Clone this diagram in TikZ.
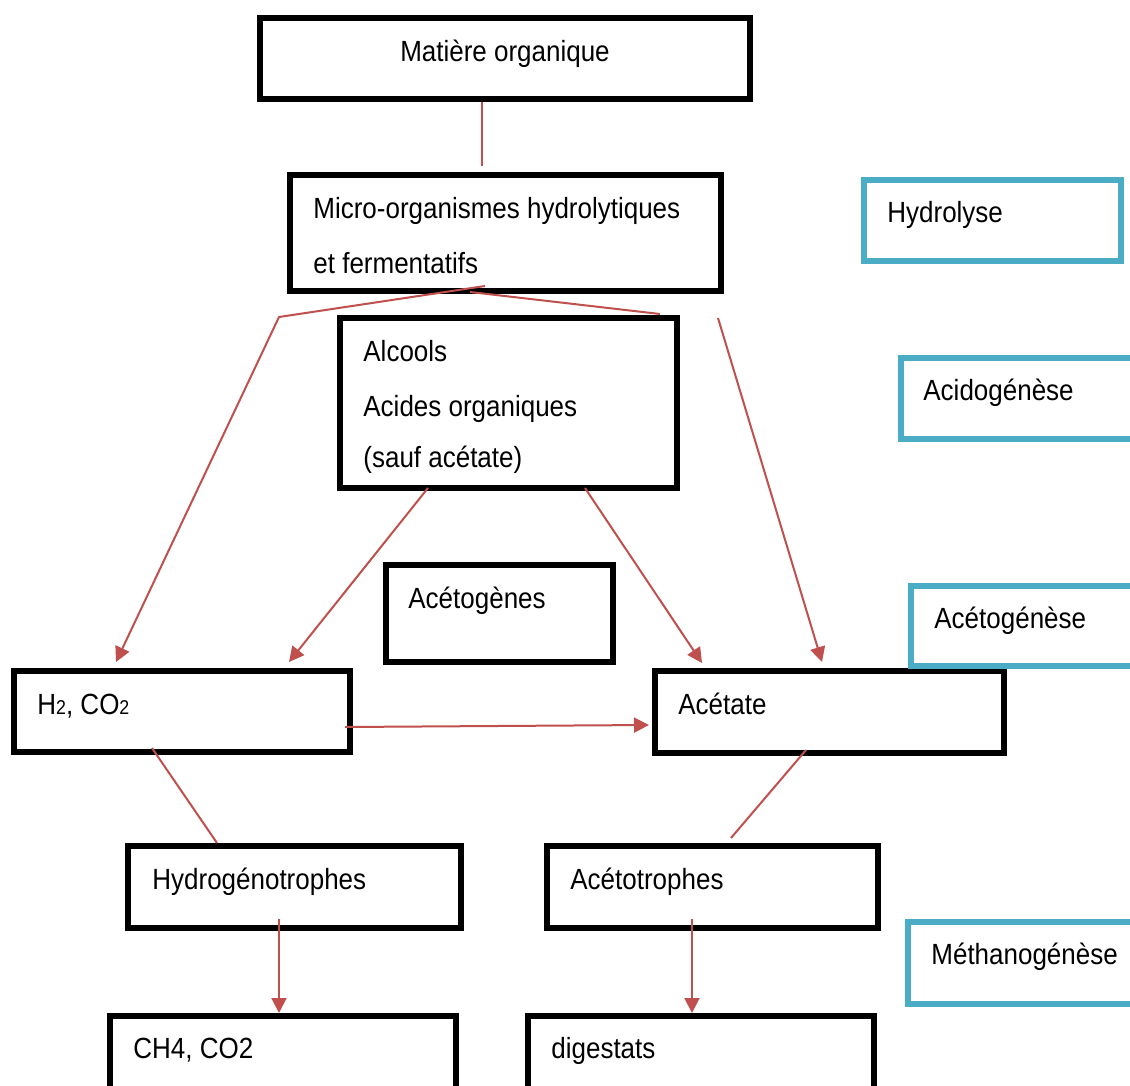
\documentclass[tikz,border=0pt]{standalone}
\usepackage{fontspec}
\setmainfont[FakeStretch=0.89]{Liberation Sans}
\usetikzlibrary{calc,arrows.meta}
\definecolor{flow}{HTML}{C0504D}
\definecolor{phase}{HTML}{4BACC6}
\newcommand\subdigit[1]{{\fontsize{10}{10}\selectfont #1}}

\begin{document}
\begin{tikzpicture}[x=0.5pt,y=-0.5pt,
  box/.style={draw=black,line width=3pt,rectangle,inner sep=0pt,anchor=north west},
  phasebox/.style={box,draw=phase},
  txt/.style={inner sep=0pt,anchor=base west,font=\fontsize{14.6}{17}\selectfont},
  con/.style={draw=flow,line width=1pt},
  arr/.style={con,-{Triangle[length=7.5pt,width=7.5pt]}}]
\useasboundingbox (0,0) rectangle (1130,1086);
\fill[white] (0,0) rectangle (1130,1086);
\clip (0,0) rectangle (1130,1086);

% process boxes
\node[box,minimum width=245pt,minimum height=40.5pt] (mat) at (257,15) {};
\node[box,minimum width=215.5pt,minimum height=58pt] (mic) at (287,172) {};
\node[box,minimum width=168.5pt,minimum height=85pt] (alc) at (337,315) {};
\node[box,minimum width=113.5pt,minimum height=48.5pt] (acg) at (383,562) {};
\node[box,minimum width=168pt,minimum height=40.5pt] (h2) at (11,668) {};
\node[box,minimum width=174.5pt,minimum height=41pt] (act) at (652,668) {};
\node[box,minimum width=166.5pt,minimum height=41pt] (hyd) at (125,843) {};
\node[box,minimum width=165.5pt,minimum height=41pt] (ato) at (544,843) {};
\node[box,minimum width=173pt,minimum height=41pt] (ch4) at (107,1013) {};
\node[box,minimum width=173pt,minimum height=41pt] (dig) at (525,1013) {};

% phase boxes
\node[phasebox,minimum width=128.5pt,minimum height=40.5pt] (hyl) at (861,177) {};
\node[phasebox,minimum width=128.5pt,minimum height=40.5pt] (acd) at (898,355) {};
\node[phasebox,minimum width=128.5pt,minimum height=40pt] (acgn) at (908,583) {};
\node[phasebox,minimum width=128.5pt,minimum height=41pt] (met) at (905,919) {};

% texts
\node[txt,anchor=base] (matT) at (505,62) {Matière organique};
\node[txt] (micT1) at (313,218) {Micro-organismes hydrolytiques};
\node[txt] (micT2) at (313,273) {et fermentatifs};
\node[txt] (alcT1) at (363,361) {Alcools};
\node[txt] (alcT2) at (363,416) {Acides organiques};
\node[txt] (alcT3) at (363,467) {(sauf acétate)};
\node[txt] (acgT) at (408,608) {Acétogènes};
\node[txt] (h2T) at (37,714) {H\subdigit{2}, CO\subdigit{2}};
\node[txt] (actT) at (678,714) {Acétate};
\node[txt] (hydT) at (152,889) {Hydrogénotrophes};
\node[txt] (atoT) at (570,889) {Acétotrophes};
\node[txt] (ch4T) at (133,1058) {CH4, CO2};
\node[txt] (digT) at (551,1058) {digestats};
\node[txt] (hylT) at (887,222) {Hydrolyse};
\node[txt] (acdT) at (923,400) {Acidogénèse};
\node[txt] (acgnT) at (934,628) {Acétogénèse};
\node[txt] (metT) at (931,964) {Méthanogénèse};

% free ends of connectors
\coordinate (matEnd) at (482,166);
\coordinate (bend) at (279,317);
\coordinate (micEnd) at (660,314);
\coordinate (sideStart) at (718,318);
\coordinate (actEnd) at (731,838);

% connectors
\draw[con] ($(mat.south west)+(225,0)$) -- (matEnd);
\draw[arr] ($(mic.south west)+(198,-8)$) -- (bend) -- ($(h2.north west)+(105,-6)$);
\draw[con] ($(mic.south west)+(183,-2)$) -- (micEnd);
\draw[arr] (sideStart) -- ($(act.north west)+(170,-6)$);
\draw[arr] ($(alc.south west)+(91,-3)$) -- ($(h2.north west)+(278,-6)$);
\draw[arr] ($(alc.south west)+(248,-3)$) -- ($(act.north west)+(50,-5)$);
\draw[arr] ($(h2.south east)+(-8,-28)$) -- ($(act.south west)+(-3,-31)$);
\draw[con] ($(h2.south west)+(141,-7)$) -- ($(hyd.north west)+(92,0)$);
\draw[con] ($(act.south west)+(154,-6)$) -- (actEnd);
\draw[arr] ($(hyd.south west)+(154,-12)$) -- ($(ch4.north west)+(172,0)$);
\draw[arr] ($(ato.south west)+(148,-12)$) -- ($(dig.north west)+(167,0)$);
\end{tikzpicture}
\end{document}
